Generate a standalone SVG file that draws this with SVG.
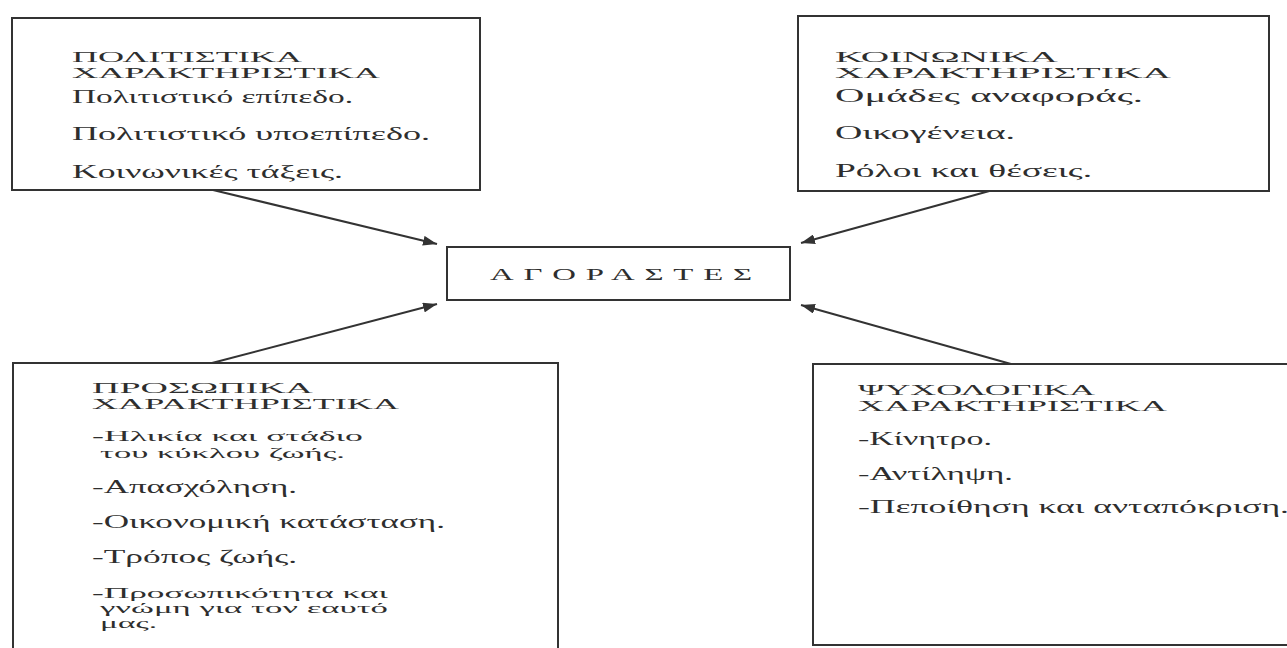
<svg xmlns="http://www.w3.org/2000/svg" width="1287" height="648" viewBox="0 0 1287 648">
<style>
.box{fill:#fff;stroke:#333;stroke-width:2}
.t{font-family:"Liberation Serif","DejaVu Serif",serif;font-size:18px;fill:#2e2e2e}
.w{font-family:"Liberation Serif","DejaVu Serif",serif;font-size:15px;fill:#2e2e2e}
.s{font-family:"Liberation Serif","DejaVu Serif",serif;font-size:14px;fill:#2e2e2e}
.h{font-family:"Liberation Serif","DejaVu Serif",serif;font-size:14.5px;fill:#2e2e2e}
.c{font-family:"Liberation Serif","DejaVu Serif",serif;font-size:16px;fill:#2e2e2e;letter-spacing:0.3em}
.conn{stroke:#333;stroke-width:2;fill:none;marker-end:url(#ah)}
</style>
<defs>
<marker id="ah" markerUnits="userSpaceOnUse" markerWidth="15" markerHeight="10" refX="14" refY="5" orient="auto">
<path d="M0,0 L14,5 L0,10 z" fill="#333"/>
</marker>
</defs>
<rect width="1287" height="648" fill="#fff"/>
<g id="connectors">
<line class="conn" x1="213" y1="190" x2="437" y2="244"/>
<line class="conn" x1="993" y1="190" x2="801" y2="243"/>
<line class="conn" x1="212" y1="363" x2="437" y2="304"/>
<line class="conn" x1="1011" y1="364" x2="801" y2="305"/>
</g>
<g id="politistika">
<rect class="box" x="12" y="18" width="468" height="172"/>
<text class="h" x="72" y="62" textLength="230" lengthAdjust="spacingAndGlyphs">ΠΟΛΙΤΙΣΤΙΚΑ</text>
<text class="h" x="72" y="78" textLength="308" lengthAdjust="spacingAndGlyphs">ΧΑΡΑΚΤΗΡΙΣΤΙΚΑ</text>
<text class="t" x="72" y="103" textLength="281" lengthAdjust="spacingAndGlyphs">Πολιτιστικό επίπεδο.</text>
<text class="t" x="72" y="140" textLength="358" lengthAdjust="spacingAndGlyphs">Πολιτιστικό υποεπίπεδο.</text>
<text class="t" x="72" y="178" textLength="271" lengthAdjust="spacingAndGlyphs">Κοινωνικές τάξεις.</text>
</g>
<g id="koinonika">
<rect class="box" x="798" y="16" width="471" height="175"/>
<text class="h" x="835" y="62" textLength="223" lengthAdjust="spacingAndGlyphs">ΚΟΙΝΩΝΙΚΑ</text>
<text class="h" x="835" y="78" textLength="336" lengthAdjust="spacingAndGlyphs">ΧΑΡΑΚΤΗΡΙΣΤΙΚΑ</text>
<text class="t" x="835" y="102" textLength="308" lengthAdjust="spacingAndGlyphs">Ομάδες αναφοράς.</text>
<text class="t" x="835" y="139" textLength="180" lengthAdjust="spacingAndGlyphs">Οικογένεια.</text>
<text class="t" x="835" y="177" textLength="257" lengthAdjust="spacingAndGlyphs">Ρόλοι και θέσεις.</text>
</g>
<g id="agorastes">
<rect class="box" x="447" y="247" width="343" height="53"/>
<text class="c" x="490" y="280" textLength="272" lengthAdjust="spacingAndGlyphs">ΑΓΟΡΑΣΤΕΣ</text>
</g>
<g id="prosopika">
<rect class="box" x="13" y="363" width="545" height="300"/>
<text class="h" x="92" y="393" textLength="221" lengthAdjust="spacingAndGlyphs">ΠΡΟΣΩΠΙΚΑ</text>
<text class="h" x="92" y="409" textLength="307" lengthAdjust="spacingAndGlyphs">ΧΑΡΑΚΤΗΡΙΣΤΙΚΑ</text>
<text class="w" x="92" y="441" textLength="271" lengthAdjust="spacingAndGlyphs">-Ηλικία και στάδιο</text>
<text class="w" x="100" y="458" textLength="245" lengthAdjust="spacingAndGlyphs">του κύκλου ζωής.</text>
<text class="t" x="92" y="493" textLength="205" lengthAdjust="spacingAndGlyphs">-Απασχόληση.</text>
<text class="t" x="92" y="528" textLength="353" lengthAdjust="spacingAndGlyphs">-Οικονομική κατάσταση.</text>
<text class="t" x="92" y="563" textLength="205" lengthAdjust="spacingAndGlyphs">-Τρόπος ζωής.</text>
<text class="s" x="92" y="598" textLength="296" lengthAdjust="spacingAndGlyphs">-Προσωπικότητα και</text>
<text class="s" x="100" y="613" textLength="288" lengthAdjust="spacingAndGlyphs">γνώμη για τον εαυτό</text>
<text class="s" x="100" y="628" textLength="57" lengthAdjust="spacingAndGlyphs">μας.</text>
</g>
<g id="psychologika">
<rect class="box" x="813" y="364" width="500" height="281"/>
<text class="h" x="858" y="395" textLength="237" lengthAdjust="spacingAndGlyphs">ΨΥΧΟΛΟΓΙΚΑ</text>
<text class="h" x="858" y="411" textLength="309" lengthAdjust="spacingAndGlyphs">ΧΑΡΑΚΤΗΡΙΣΤΙΚΑ</text>
<text class="t" x="858" y="445" textLength="134" lengthAdjust="spacingAndGlyphs">-Κίνητρο.</text>
<text class="t" x="858" y="480" textLength="155" lengthAdjust="spacingAndGlyphs">-Αντίληψη.</text>
<text class="t" x="858" y="513" textLength="431" lengthAdjust="spacingAndGlyphs">-Πεποίθηση και ανταπόκριση.</text>
</g>
</svg>
